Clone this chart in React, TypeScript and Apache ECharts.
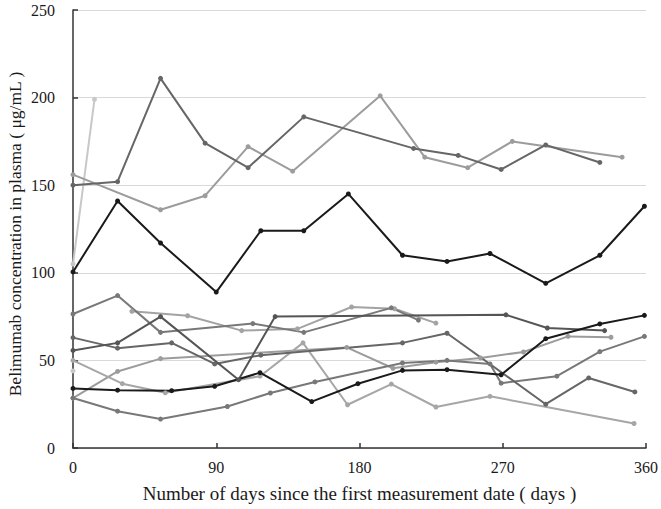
import React, { useEffect, useRef } from "react";
import * as echarts from "echarts";

// ---- data (days since first measurement, concentration µg/mL) ----
const p1Days = [0, 28, 55, 83, 110, 145, 214, 242, 269, 297, 331];
const p1Vals = [150, 152, 211, 174, 160, 189, 171, 167, 159, 173, 163];

const p2Days = [0, 55, 83, 110, 138, 193, 221, 248, 276, 345];
const p2Vals = [156, 136, 144, 172, 158, 201, 166, 160, 175, 166];

const p3Days = [0, 28, 55, 90, 118, 145, 173, 207, 235, 262, 297, 331, 359];
const p3Vals = [100.5, 141, 117, 89, 124, 124, 145, 110, 106.5, 111, 94, 110, 138];

const p4Days = [0, 13.5];
const p4Vals = [105, 199];

const p5Days = [0];
const p5Vals = [44];

const p6Days = [0, 28, 55, 113, 145, 200, 217];
const p6Vals = [76.5, 87, 66, 71, 66, 80, 73];

const p7Days = [37, 72, 106, 141, 175, 202, 228];
const p7Vals = [78, 75.5, 67, 68, 80.5, 79.5, 71.3];

const p8Days = [0, 28, 62, 89, 118, 207, 235, 297, 324, 353];
const p8Vals = [63, 57, 60, 48, 53, 60, 65.5, 25, 40, 32];

const p9Days = [0, 28, 55, 104, 127, 272, 298, 334];
const p9Vals = [55.7, 60, 75, 39, 75, 76, 68.5, 67];

const p10Days = [0, 28, 55, 172, 201, 228, 256, 283, 311, 338];
const p10Vals = [28.5, 43.7, 51, 57.4, 45.5, 49, 51.4, 54.8, 63.7, 63.2];

const p11Days = [0, 28, 55, 97, 124, 152, 207, 235, 262, 269, 304, 331, 359];
const p11Vals = [28.5, 21, 16.5, 23.7, 31.4, 37.7, 48.5, 50, 48, 37, 41, 55, 63.7];

const p12Days = [0, 31, 58, 117.5, 144.5, 172.5, 200, 228, 262, 352.5];
const p12Vals = [50, 36.7, 31.5, 41, 60, 24.7, 36.5, 23.4, 29.5, 14];

const p13Days = [0, 28, 62, 89, 117.5, 150, 179, 207, 235, 269, 297, 331, 359];
const p13Vals = [34, 33, 32.7, 35.2, 43, 26.5, 36.7, 44.3, 44.7, 41.8, 62.4, 70.8, 75.7];

const xTicks = [0, 90, 180, 270, 360];
const yTicks = [0, 50, 100, 150, 200, 250];

const yTitle = "Belimumab concentration in plasma ( μg/mL )";
const xTitle = "Number of days since the first measurement date ( days )";

const patients = [
  { name: "P4", days: p4Days, vals: p4Vals, color: "#c8c8c8" },
  { name: "P5", days: p5Days, vals: p5Vals, color: "#c8c8c8" },
  { name: "P2", days: p2Days, vals: p2Vals, color: "#9c9c9c" },
  { name: "P7", days: p7Days, vals: p7Vals, color: "#a3a3a3" },
  { name: "P10", days: p10Days, vals: p10Vals, color: "#9c9c9c" },
  { name: "P12", days: p12Days, vals: p12Vals, color: "#a6a6a6" },
  { name: "P6", days: p6Days, vals: p6Vals, color: "#787878" },
  { name: "P11", days: p11Days, vals: p11Vals, color: "#787878" },
  { name: "P1", days: p1Days, vals: p1Vals, color: "#666666" },
  { name: "P8", days: p8Days, vals: p8Vals, color: "#666666" },
  { name: "P9", days: p9Days, vals: p9Vals, color: "#555555" },
  { name: "P3", days: p3Days, vals: p3Vals, color: "#1a1a1a" },
  { name: "P13", days: p13Days, vals: p13Vals, color: "#1a1a1a" },
];

const FONT = '"Liberation Serif", "Times New Roman", serif';

export default function App() {
  const ref = useRef<HTMLDivElement>(null);
  useEffect(() => {
    if (!ref.current) return;
    const chart = echarts.init(ref.current, undefined, { renderer: "svg" });
    chart.setOption({
      animation: false,
      backgroundColor: "#ffffff",
      grid: { left: 73, right: 11, top: 10, bottom: 61, containLabel: false },
      graphic: [
        {
          type: "text",
          x: 15,
          y: 234,
          rotation: Math.PI / 2,
          style: {
            text: yTitle,
            fontFamily: FONT,
            fontSize: 17.5,
            fill: "#1a1a1a",
            textAlign: "center",
            textVerticalAlign: "middle",
          },
        },
      ],
      xAxis: {
        type: "value",
        min: xTicks[0],
        max: xTicks[xTicks.length - 1],
        interval: 90,
        name: xTitle,
        nameLocation: "middle",
        nameGap: 36,
        nameTextStyle: { fontFamily: FONT, fontSize: 19, color: "#1a1a1a" },
        axisLine: { show: true, lineStyle: { color: "#333333", width: 1.5 } },
        axisTick: { show: true, inside: true, length: 5, lineStyle: { color: "#333333", width: 1.5 } },
        axisLabel: { fontFamily: FONT, fontSize: 16, color: "#1a1a1a", margin: 11 },
        splitLine: { show: false },
      },
      yAxis: {
        type: "value",
        min: yTicks[0],
        max: yTicks[yTicks.length - 1],
        interval: 50,
        axisLine: { show: true, lineStyle: { color: "#333333", width: 1.5 } },
        axisTick: { show: true, inside: true, length: 5, lineStyle: { color: "#333333", width: 1.5 } },
        axisLabel: { fontFamily: FONT, fontSize: 16, color: "#1a1a1a", margin: 18 },
        splitLine: { show: true, lineStyle: { color: "#d9d9d9", width: 1 } },
      },
      series: patients.map((p) => ({
        name: p.name,
        type: "line",
        data: p.days.map((d, i) => [d, p.vals[i]]),
        symbol: "circle",
        symbolSize: 5,
        showSymbol: true,
        lineStyle: { color: p.color, width: 2 },
        itemStyle: { color: p.color },
        emphasis: { disabled: true },
      })),
    });
    return () => chart.dispose();
  }, []);
  return (
    <div
      ref={ref}
      style={{ position: "fixed", left: 0, top: 0, width: 661, height: 509, background: "#fff" }}
    />
  );
}
